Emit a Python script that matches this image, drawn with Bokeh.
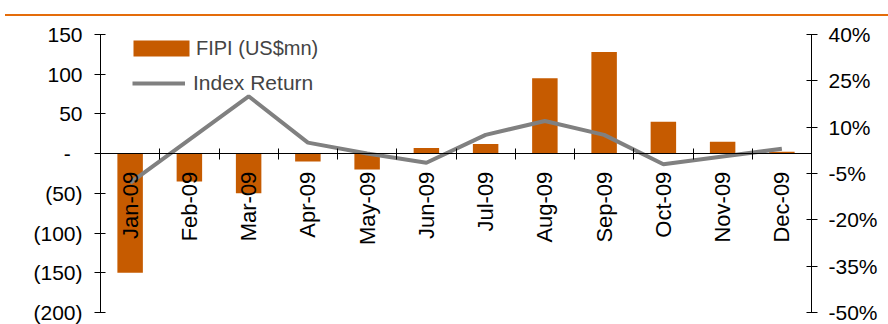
from math import pi
from bokeh.plotting import figure
from bokeh.models import (Range1d, LinearAxis, FixedTicker, Legend, LegendItem,
                          Div, PrintfTickFormatter)
from bokeh.layouts import column
from bokeh.embed import file_html
from bokeh.resources import INLINE

# ---- data ----
months = ["Jan-09", "Feb-09", "Mar-09", "Apr-09", "May-09", "Jun-09",
          "Jul-09", "Aug-09", "Sep-09", "Oct-09", "Nov-09", "Dec-09"]
fipi = [-150, -35, -50, -10, -20, 7, 12, 95, 128, 40, 15, 2.5]          # US$mn
index_return = [-8, 6, 20, 5, 1.5, -1.5, 7.5, 12, 7.5, -2, 0.5, 3]     # %
left_ticks = [-200, -150, -100, -50, 0, 50, 100, 150]
left_tick_labels = ["(200)", "(150)", "(100)", "(50)", "-\u00a0\u00a0", "50", "100", "150"]
right_ticks = [-50, -35, -20, -5, 10, 25, 40]

FONT = "Liberation Sans"
FS = "21px"
BAR = "#C65B00"
LINE = "#808080"
ACCENT = "#E46C0A"

x = list(range(len(months)))

p = figure(width=888, height=308, output_backend="svg", toolbar_location=None,
           x_range=Range1d(-0.5, len(months) - 0.5), y_range=Range1d(-200, 150),
           x_axis_location=None, y_axis_location="left",
           min_border_left=100, min_border_right=77, min_border_top=18, min_border_bottom=12)
p.extra_y_ranges = {"ret": Range1d(-50, 40)}
p.outline_line_color = None
p.grid.visible = False

def style(ax):
    ax.major_label_text_font = FONT
    ax.major_label_text_font_size = FS
    ax.major_label_text_color = "black"
    ax.axis_line_color = "black"
    ax.major_tick_line_color = "black"
    ax.minor_tick_line_color = None

ly = p.yaxis[0]
style(ly)
ly.ticker = FixedTicker(ticks=left_ticks)
ly.major_label_overrides = {t: s for t, s in zip(left_ticks, left_tick_labels)}
ly.major_tick_in = 5
ly.major_tick_out = 6
ly.major_label_standoff = 12

ry = LinearAxis(y_range_name="ret", ticker=FixedTicker(ticks=right_ticks),
                formatter=PrintfTickFormatter(format="%d%%"))
style(ry)
ry.major_tick_in = 5
ry.major_tick_out = 6
ry.major_label_standoff = 11
p.add_layout(ry, "right")

# category axis on the zero line: labels at centres, ticks at boundaries
cx = LinearAxis(fixed_location=0,
                ticker=FixedTicker(ticks=x, minor_ticks=[i + 0.5 for i in x[:-1]]),
                major_label_overrides={i: m for i, m in zip(x, months)},
                major_label_orientation=pi / 2)
style(cx)
cx.major_label_text_font_size = "22px"
cx.major_tick_line_color = None
cx.major_tick_in = 0
cx.major_tick_out = 0
cx.minor_tick_line_color = "black"
cx.minor_tick_in = 5
cx.minor_tick_out = 6
cx.major_label_standoff = 12
p.add_layout(cx, "below")

bars = p.vbar(x=x, top=fipi, bottom=0, width=0.43, fill_color=BAR, line_color=None)
ln = p.line(x=x, y=index_return, y_range_name="ret", line_color=LINE, line_width=4)

common = dict(glyph_height=20, label_height=26, padding=0, margin=0, border_line_color=None,
              background_fill_alpha=0, label_text_font=FONT)
leg1 = Legend(items=[LegendItem(label="FIPI (US$mn)", renderers=[bars])],
              location=(26, 251), glyph_width=70, label_standoff=-4,
              label_text_font_size="20px", **common)
leg2 = Legend(items=[LegendItem(label="Index Return", renderers=[ln])],
              location=(32, 216), glyph_width=53, label_standoff=8,
              label_text_font_size=FS, **common)
p.add_layout(leg1)
p.add_layout(leg2)

div = Div(text="", width=883, height=16, margin=(0, 0, 0, 5),
          styles={"border-bottom": f"2px solid {ACCENT}", "box-sizing": "border-box"})

layout = column(div, p, spacing=0)
open("out.html", "w").write(file_html(layout, INLINE))
